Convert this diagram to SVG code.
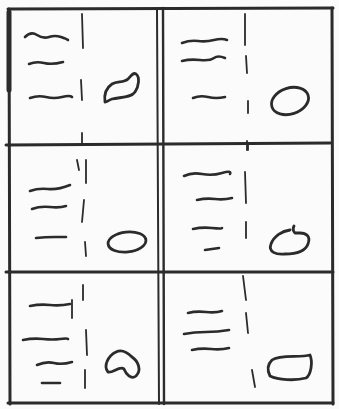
<svg xmlns="http://www.w3.org/2000/svg" width="339" height="409" viewBox="0 0 339 409">
<style>
.f{fill:none;stroke:#2b2b2b;stroke-linecap:round;stroke-linejoin:round}
.b{stroke-width:3}
.s{stroke-width:2.6}
.d{stroke-width:1.8}
.o{stroke-width:2.8}
</style>
<rect width="339" height="409" fill="#fbfbfb"/>
<g id="frame" class="f b">
<path d="M8,9 L333,8"/>
<path d="M9,9 L10,404"/>
<path d="M332,8 L333,404"/>
<path d="M8,403 L333,403"/>
<path d="M157,9 L159,404" stroke-width="2"/>
<path d="M163,8 L164,404" stroke-width="2.4"/>
<path d="M6,145 L330,143"/>
<path d="M6,272 L333,272"/>
<path d="M9,12 L9,90" stroke-width="5"/>
</g>
<g id="cell1" class="f">
<path class="s" d="M25,37 Q31,31 37,35 T49,37 T61,37 T68,40"/>
<path class="s" d="M29,64 Q36,61 44,63 T63,62"/>
<path class="s" d="M30,98 Q38,95 46,97 T62,97 T72,97"/>
<path class="d" d="M82,14 L83,48 M81,80 L82,100 M82,133 L82,145"/>
<path class="o" d="M105,102 C104,95 106,88 112,84 C117,81 124,83 128,79 C131,76 133,72 136,74 C140,77 139,86 135,92 C131,98 120,97 112,99 C109,100 107,102 105,102 Z"/>
</g>
<g id="cell2" class="f">
<path class="s" d="M182,43 Q190,40 198,41 T214,40 T227,40"/>
<path class="s" d="M182,61 Q190,59 200,60 T214,58 T225,58"/>
<path class="s" d="M193,98 Q200,95 208,97 T225,97"/>
<path class="d" d="M245,14 L245,45 M246,56 L247,73 M248,101 L248,113 M248,143 L248,150"/>
<ellipse class="o" cx="290" cy="101" rx="19" ry="13" transform="rotate(-18 290 101)"/>
</g>
<g id="cell3" class="f">
<path class="s" d="M30,191 Q38,188 48,189 T70,185"/>
<path class="s" d="M32,209 Q40,206 50,207 T66,206"/>
<path class="s" d="M36,238 Q45,237 55,237 T66,237"/>
<path class="d" d="M86,160 L86,183 M84,200 L82,222 M85,242 L86,256 M77,160 L79,170"/>
<ellipse class="o" cx="127" cy="242" rx="19" ry="10" transform="rotate(-6 127 242)"/>
</g>
<g id="cell4" class="f">
<path class="s" d="M184,176 Q192,172 202,174 T222,173 T230,174"/>
<path class="s" d="M197,200 Q206,198 215,199 T232,198"/>
<path class="s" d="M193,229 Q202,227 212,228 T222,228"/>
<path class="s" d="M205,250 L219,248"/>
<path class="d" d="M245,172 L246,203 M246,222 L246,238 M247,141 L247,150"/>
<path class="o" d="M290,230 C282,231 274,236 271,244 C268,252 276,255 285,254 C295,254 305,252 308,244 C311,236 306,233 300,233 L295,233 C293,231 293,228 294,226"/>
</g>
<g id="cell5" class="f">
<path class="s" d="M30,306 Q40,304 50,305 T70,304"/>
<path class="s" d="M23,340 Q33,338 43,339 T60,339 T68,339"/>
<path class="s" d="M37,365 Q46,361 54,363 T72,362"/>
<path class="s" d="M42,383 L60,383"/>
<path class="d" d="M83,285 L83,300 M72,300 L72,318 M86,330 L87,355 M85,370 L85,388"/>
<path class="o" d="M108,372 C103,366 108,356 116,352 C122,349 128,353 132,357 C138,361 142,370 136,376 C131,380 126,374 124,369 C120,365 112,374 108,372 Z"/>
</g>
<g id="cell6" class="f">
<path class="s" d="M188,313 Q196,311 206,312 T222,311"/>
<path class="s" d="M184,334 Q194,332 206,332 T229,330"/>
<path class="s" d="M192,350 Q201,348 211,349 T229,348"/>
<path class="d" d="M243,276 L246,300 M246,313 L248,333 M252,370 L255,387"/>
<path class="o" d="M272,360 C280,354 300,358 310,355 C313,362 311,375 306,378 C295,381 278,380 270,376 C267,370 268,364 272,360 Z"/>
</g>
</svg>
